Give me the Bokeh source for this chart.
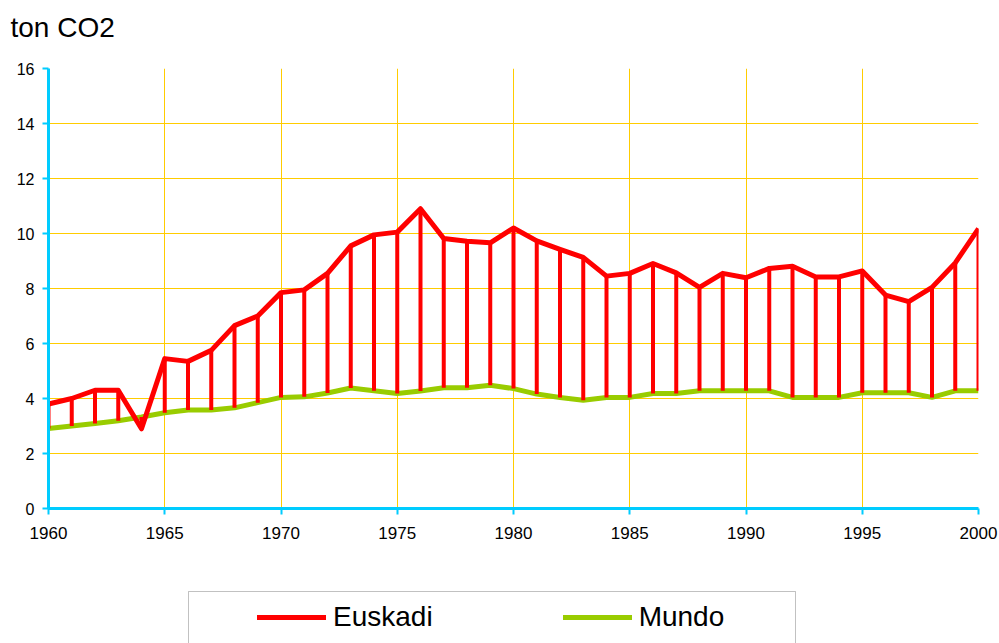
from bokeh.plotting import figure
from bokeh.layouts import column
from bokeh.models import (Legend, LegendItem, BoxAnnotation, FixedTicker,
                          ColumnDataSource)
from bokeh.embed import file_html
from bokeh.resources import INLINE

years = list(range(1960, 2001))
euskadi = [3.8, 4.0, 4.3, 4.3, 2.9, 5.45, 5.35, 5.75, 6.65, 7.0,
           7.85, 7.95, 8.55, 9.55, 9.95, 10.05, 10.9, 9.82, 9.72, 9.66,
           10.2, 9.73, 9.42, 9.13, 8.45, 8.55, 8.91, 8.57, 8.04, 8.55,
           8.39, 8.73, 8.81, 8.42, 8.42, 8.64, 7.76, 7.52, 8.04, 8.93,
           10.18]
mundo = [2.91, 3.0, 3.09, 3.19, 3.33, 3.48, 3.58, 3.58, 3.66, 3.85,
         4.04, 4.06, 4.2, 4.38, 4.28, 4.18, 4.27, 4.39, 4.39, 4.48,
         4.36, 4.16, 4.04, 3.94, 4.04, 4.04, 4.18, 4.18, 4.28, 4.28,
         4.28, 4.28, 4.04, 4.04, 4.04, 4.21, 4.21, 4.21, 4.04, 4.28,
         4.28]
x_ticks = list(range(1960, 2001, 5))
y_ticks = list(range(0, 17, 2))
series_names = ["Euskadi", "Mundo"]
series_colors = ["#FF0000", "#99CC00"]

FONT = "Liberation Sans"
AXIS_COLOR = "#00CCFF"
GRID_COLOR = "#FFCC00"

src = ColumnDataSource(dict(year=years, eus=euskadi, mun=mundo))

p = figure(width=999, height=560, output_backend="svg", toolbar_location=None,
           x_range=(1960, 2000), y_range=(0, 16),
           min_border_left=48, min_border_right=21, min_border_top=68,
           min_border_bottom=52)
p.outline_line_color = None
p.background_fill_color = "white"
p.border_fill_color = "white"

p.title.text = "ton CO2"
p.title.text_font = FONT
p.title.text_font_size = "28px"
p.title.text_font_style = "normal"
p.title.text_color = "black"
p.title.align = "left"
p.title.offset = -38
p.title.standoff = 0
p.title.padding = dict(left=0, right=0, top=0, bottom=26)

for ax, ticks in ((p.xaxis, x_ticks), (p.yaxis, y_ticks)):
    ax.ticker = FixedTicker(ticks=ticks)
    ax.axis_line_color = AXIS_COLOR
    ax.axis_line_width = 3
    ax.major_tick_line_color = AXIS_COLOR
    ax.major_tick_line_width = 2
    ax.major_tick_out = 6
    ax.major_tick_in = 0
    ax.minor_tick_line_color = None
    ax.major_label_text_font = FONT
    ax.major_label_text_color = "black"
p.xaxis.major_label_text_font_size = "17px"
p.yaxis.major_label_text_font_size = "16px"
p.xaxis.major_label_standoff = 12
p.yaxis.major_label_standoff = 8

p.xgrid.ticker = FixedTicker(ticks=x_ticks)
p.ygrid.ticker = FixedTicker(ticks=y_ticks)
p.grid.grid_line_color = GRID_COLOR
p.grid.grid_line_width = 1

p.line("year", "mun", source=src, line_color=series_colors[1], line_width=5)
p.segment(x0="year", y0="mun", x1="year", y1="eus", source=src,
          line_color=series_colors[0], line_width=4)
p.line("year", "eus", source=src, line_color=series_colors[0], line_width=5,
       line_join="round")

# legend strip below the chart (its frame lines up with the chart frame: 48..978 px)
lg = figure(width=999, height=83, output_backend="svg", toolbar_location=None,
            x_range=(48, 978), y_range=(0, 83),
            min_border_left=48, min_border_right=21, min_border_top=0,
            min_border_bottom=0)
lg.axis.visible = False
lg.grid.visible = False
lg.outline_line_color = None
lg.background_fill_color = "white"
lg.border_fill_color = "white"

box = BoxAnnotation(left=188, right=795, top=52, bottom=-10,
                    fill_alpha=0, line_color="#333333", line_width=1)
lg.add_layout(box)

r_e = lg.line(x=[-100, -90], y=[-100, -100], line_color=series_colors[0],
              line_width=5, line_cap="round")
r_m = lg.line(x=[-100, -90], y=[-100, -100], line_color=series_colors[1],
              line_width=5, line_cap="round")
legend = Legend(items=[LegendItem(label=series_names[0], renderers=[r_e]),
                       LegendItem(label=series_names[1], renderers=[r_m])],
                location=(209, 10), orientation="horizontal",
                padding=0, margin=0, spacing=130,
                glyph_width=69, label_standoff=7,
                label_text_font=FONT, label_text_font_size="28px",
                label_text_color="black",
                border_line_color=None, background_fill_alpha=0)
lg.add_layout(legend, "center")

open("out.html", "w").write(file_html(column(p, lg, spacing=0), INLINE))
